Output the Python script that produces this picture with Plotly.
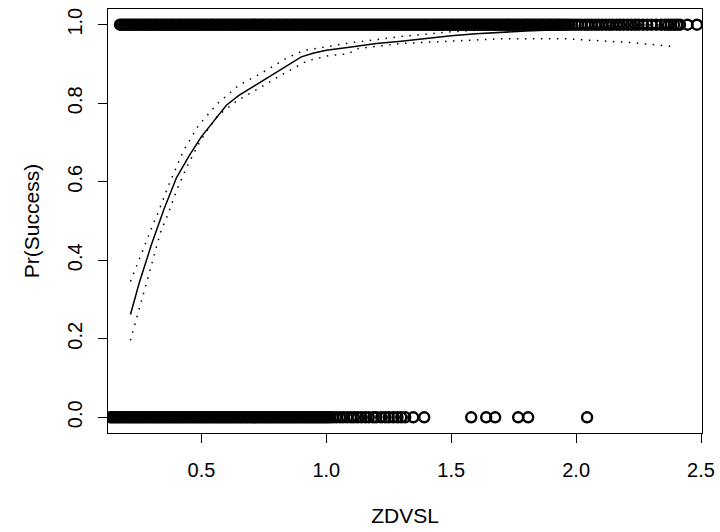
import plotly.graph_objects as go

# fitted curve and pointwise bands
fit_x = [0.216, 0.25, 0.30, 0.35, 0.40, 0.45, 0.50, 0.55, 0.60, 0.65, 0.70, 0.75, 0.80,
         0.85, 0.90, 0.95, 1.00, 1.10, 1.20, 1.30, 1.40, 1.50, 1.60, 1.80, 2.00, 2.20, 2.40]
fit_y = [0.262, 0.34, 0.44, 0.53, 0.61, 0.665, 0.715, 0.755, 0.795, 0.82, 0.84, 0.86, 0.88,
         0.90, 0.918, 0.928, 0.935, 0.943, 0.952, 0.958, 0.965, 0.972, 0.977, 0.984, 0.989, 0.992, 0.994]

up_x = [0.216, 0.244, 0.268, 0.30, 0.328, 0.368, 0.428, 0.488, 0.564, 0.648, 0.744, 0.844,
        0.908, 1.024, 1.096, 1.20, 1.30, 1.40, 1.50, 1.60, 1.80, 2.00, 2.20, 2.40]
up_y = [0.346, 0.392, 0.433, 0.481, 0.524, 0.590, 0.679, 0.743, 0.799, 0.845, 0.878, 0.916,
        0.934, 0.947, 0.954, 0.962, 0.970, 0.976, 0.982, 0.986, 0.993, 0.997, 0.999, 1.000]

lo_x = [0.216, 0.236, 0.256, 0.276, 0.296, 0.316, 0.336, 0.364, 0.404, 0.444, 0.496, 0.564,
        0.644, 0.736, 0.828, 0.924, 1.008, 1.088, 1.124, 1.296, 1.50, 1.696, 1.964, 2.096, 2.228, 2.396]
lo_y = [0.196, 0.239, 0.288, 0.333, 0.379, 0.425, 0.471, 0.514, 0.583, 0.641, 0.705, 0.768,
        0.807, 0.840, 0.875, 0.908, 0.921, 0.926, 0.939, 0.952, 0.959, 0.964, 0.964, 0.959, 0.954, 0.944]

# observed outcomes
ones_x = [
    0.174, 0.181, 0.190, 0.197, 0.206, 0.214, 0.221, 0.230, 0.238, 0.247, 0.253, 0.262, 0.271, 0.279, 0.286, 0.295, 0.303, 0.312, 0.318, 0.327,
    0.336, 0.344, 0.351, 0.360, 0.369, 0.377, 0.384, 0.393, 0.402, 0.410, 0.417, 0.426, 0.435, 0.443, 0.450, 0.459, 0.468, 0.476, 0.483, 0.492,
    0.501, 0.509, 0.516, 0.525, 0.534, 0.542, 0.549, 0.558, 0.567, 0.575, 0.582, 0.591, 0.600, 0.608, 0.615, 0.624, 0.633, 0.641, 0.648, 0.657,
    0.666, 0.674, 0.681, 0.690, 0.699, 0.707, 0.714, 0.723, 0.732, 0.740, 0.747, 0.756, 0.765, 0.773, 0.780, 0.789, 0.798, 0.806, 0.813, 0.822,
    0.831, 0.839, 0.846, 0.855, 0.864, 0.872, 0.879, 0.888, 0.897, 0.905, 0.912, 0.921, 0.930, 0.938, 0.945, 0.954, 0.963, 0.971, 0.978, 0.987,
    0.996, 1.004, 1.011, 1.020, 1.029, 1.037, 1.044, 1.053, 1.062, 1.070, 1.077, 1.086, 1.095, 1.103, 1.110, 1.119, 1.128, 1.136, 1.143, 1.152,
    1.161, 1.169, 1.176, 1.185, 1.194, 1.202, 1.209, 1.218, 1.227, 1.235, 1.242, 1.251, 1.260, 1.268, 1.275, 1.284, 1.293, 1.301, 1.308, 1.317,
    1.326, 1.334, 1.341, 1.350, 1.359, 1.367, 1.374, 1.383, 1.392, 1.400, 1.407, 1.416, 1.425, 1.433, 1.440, 1.449, 1.458, 1.466, 1.473, 1.482,
    1.491, 1.499, 1.506, 1.515, 1.524, 1.532, 1.539, 1.548, 1.557, 1.565, 1.572, 1.581, 1.590, 1.598, 1.605, 1.614, 1.623, 1.631, 1.638, 1.647,
    1.656, 1.664, 1.671, 1.680, 1.689, 1.697, 1.704, 1.713, 1.722, 1.730, 1.737, 1.746, 1.755, 1.763, 1.770, 1.779, 1.788, 1.796, 1.803, 1.812,
    1.821, 1.829, 1.836, 1.845, 1.854, 1.862, 1.869, 1.878, 1.887, 1.895, 1.902, 1.911, 1.920, 1.928, 1.935, 1.944, 1.953, 1.961,
    1.972, 1.984, 1.997, 2.008, 2.021, 2.036, 2.048, 2.062, 2.077, 2.090, 2.104, 2.119, 2.133, 2.146, 2.162, 2.175, 2.190, 2.206,
    2.221, 2.236, 2.250, 2.268, 2.285, 2.302, 2.321, 2.340, 2.355, 2.368, 2.380, 2.392, 2.404, 2.416, 2.446, 2.484,
]
zeros_x = [
    0.135, 0.142, 0.150, 0.157, 0.165, 0.172, 0.181, 0.188, 0.196, 0.203, 0.211, 0.219, 0.226, 0.234, 0.242, 0.249, 0.257, 0.265, 0.272, 0.280,
    0.288, 0.295, 0.303, 0.311, 0.318, 0.326, 0.334, 0.341, 0.349, 0.357, 0.364, 0.372, 0.380, 0.387, 0.395, 0.403, 0.410, 0.418, 0.426, 0.433,
    0.441, 0.449, 0.456, 0.464, 0.472, 0.479, 0.487, 0.495, 0.502, 0.510, 0.518, 0.525, 0.533, 0.541, 0.548, 0.556, 0.564, 0.571, 0.579, 0.587,
    0.594, 0.602, 0.610, 0.617, 0.625, 0.633, 0.640, 0.648, 0.656, 0.663, 0.671, 0.679, 0.686, 0.694, 0.702, 0.709, 0.717, 0.725, 0.732, 0.740,
    0.748, 0.755, 0.763, 0.771, 0.778, 0.786, 0.794, 0.801, 0.809, 0.817, 0.824, 0.832, 0.840, 0.847, 0.855, 0.863, 0.870, 0.878, 0.886, 0.893,
    0.901, 0.909, 0.916, 0.924, 0.932, 0.939, 0.947, 0.955, 0.962, 0.970, 0.978, 0.985, 0.993, 1.001, 1.008, 1.016,
    1.027, 1.040, 1.055, 1.068, 1.083, 1.098, 1.110, 1.125, 1.140, 1.156, 1.170, 1.188, 1.200, 1.220, 1.236, 1.250, 1.268, 1.285,
    1.300, 1.316, 1.348, 1.392, 1.580, 1.640, 1.676, 1.768, 1.808, 2.044,
]

x_ticks = [0.5, 1.0, 1.5, 2.0, 2.5]
y_ticks = [0.0, 0.2, 0.4, 0.6, 0.8, 1.0]

FONT = "Liberation Sans, Arial, sans-serif"
fig = go.Figure()
marker = dict(symbol="circle-open", size=10, color="black", line=dict(width=2.4, color="black"))
fig.add_trace(go.Scatter(x=ones_x, y=[1] * len(ones_x), mode="markers", marker=marker, cliponaxis=True))
fig.add_trace(go.Scatter(x=zeros_x, y=[0] * len(zeros_x), mode="markers", marker=marker, cliponaxis=True))
fig.add_trace(go.Scatter(x=fit_x, y=fit_y, mode="lines", line=dict(color="black", width=1.5)))
fig.add_trace(go.Scatter(x=up_x, y=up_y, mode="lines", line=dict(color="black", width=1.5, dash="1.5px,6.5px")))
fig.add_trace(go.Scatter(x=lo_x, y=lo_y, mode="lines", line=dict(color="black", width=1.5, dash="1.5px,6.5px")))

axis_common = dict(showgrid=False, zeroline=False, showline=True, mirror=True, linecolor="black",
                   linewidth=1, ticks="outside", ticklen=9, tickwidth=1, tickcolor="black",
                   tickfont=dict(family=FONT, size=20, color="black"))
fig.update_xaxes(range=[0.126, 2.504], tickvals=x_ticks, ticktext=["0.5", "1.0", "1.5", "2.0", "2.5"],
                 title=dict(text="ZDVSL", font=dict(family=FONT, size=21, color="black"), standoff=28),
                 ticklabelstandoff=10, **axis_common)
fig.update_yaxes(range=[-0.04, 1.04], tickvals=y_ticks, ticktext=["0.0", "0.2", "0.4", "0.6", "0.8", "1.0"],
                 tickangle=-90,
                 title=dict(text="Pr(Success)", font=dict(family=FONT, size=21, color="black"), standoff=18),
                 ticklabelstandoff=8, **axis_common)
fig.update_layout(width=720, height=532, margin=dict(l=108, r=18, t=9, b=99, autoexpand=False),
                  paper_bgcolor="white", plot_bgcolor="white", showlegend=False, hovermode=False)
fig.write_html("out.html", config={"displayModeBar": False},
               post_script="document.body.style.margin='0px';")
